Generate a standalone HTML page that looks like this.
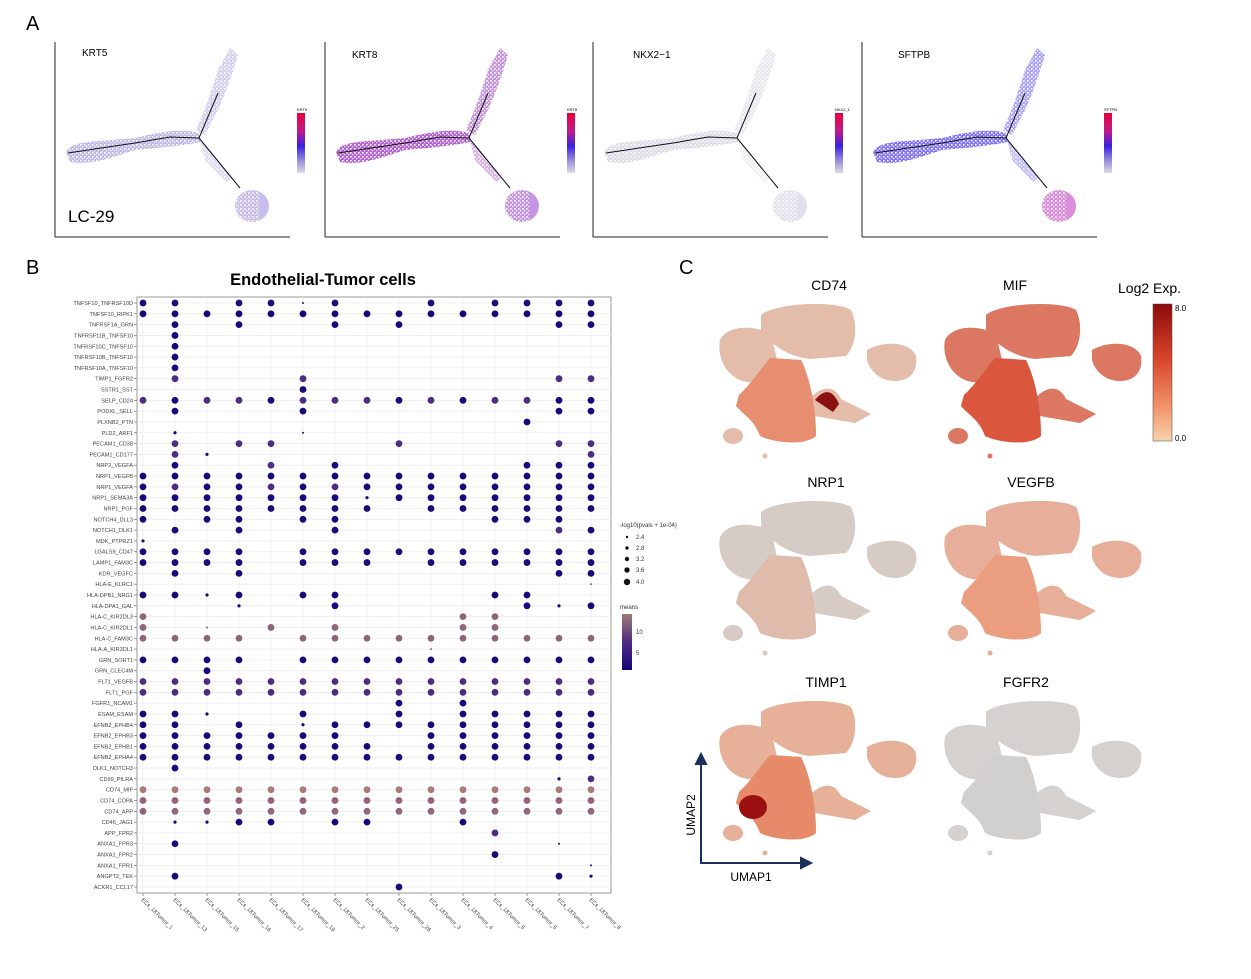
<!DOCTYPE html>
<html><head><meta charset="utf-8">
<style>
body{margin:0;background:#fff;}
svg{display:block;font-family:"Liberation Sans",sans-serif;}
</style></head>
<body>
<svg id="fig" width="1251" height="979" viewBox="0 0 1251 979" xmlns="http://www.w3.org/2000/svg">
<defs>
<linearGradient id="gA" x1="0" y1="0" x2="0" y2="1">
<stop offset="0" stop-color="#e8003a"/><stop offset="0.3" stop-color="#c21a8a"/><stop offset="0.55" stop-color="#3a22e0"/><stop offset="0.8" stop-color="#9a90dc"/><stop offset="1" stop-color="#dcdce4"/></linearGradient>
<linearGradient id="gM" x1="0" y1="0" x2="0" y2="1">
<stop offset="0" stop-color="#a07a76"/><stop offset="0.5" stop-color="#4d2d80"/><stop offset="1" stop-color="#14047a"/></linearGradient>
<linearGradient id="gE" x1="0" y1="0" x2="0" y2="1">
<stop offset="0" stop-color="#8b0a0a"/><stop offset="0.4" stop-color="#d9452b"/><stop offset="0.75" stop-color="#f0946a"/><stop offset="1" stop-color="#f8d2ae"/></linearGradient>
<pattern id="speck" width="4" height="4" patternUnits="userSpaceOnUse">
<rect x="0" y="0" width="1.6" height="1.6" fill="#fff"/><rect x="2" y="2" width="1.2" height="1.2" fill="#fff"/></pattern>
<g id="umap">
<path d="M5,40 C12,26 36,24 56,34 L62,60 C56,80 40,86 25,80 C10,74 2,56 5,40Z"/>
<path d="M46,15 C60,3 120,0 136,10 C143,25 141,45 131,56 L95,59 C70,56 54,42 46,30Z"/>
<path d="M24,95 C35,85 45,70 55,58 L86,60 C96,80 101,110 101,136 C90,146 60,143 45,136 C40,121 30,116 21,106Z"/>
<path d="M93,100 C108,84 120,86 126,99 L156,114 L140,123 L100,116Z"/>
<path d="M152,50 C170,40 195,42 201,56 C203,70 196,81 180,81 C165,81 155,71 152,60Z"/>
<ellipse cx="18" cy="136" rx="10" ry="8"/>
<circle cx="50" cy="156" r="2.5"/>
</g>
<g id="traj">
<path d="M68,153 L135,143 L170,137 L199,138 M199,138 L218,93 M199,138 L240,188" fill="none" stroke="#111" stroke-width="1"/>
</g>
</defs>

<text x="26" y="30" font-size="20">A</text>
<text x="26" y="274" font-size="20">B</text>
<text x="679" y="274" font-size="20">C</text>

<g id="panelA"></g>

<text x="323" y="285" font-size="16.5" font-weight="bold" text-anchor="middle">Endothelial-Tumor cells</text>
<g id="dotplot"></g>

<g font-size="6" fill="#333">
<text x="620" y="527">-log10(pvals + 1e-04)</text>
<circle cx="627" cy="537" r="1.2" fill="#111"/><text x="636" y="539">2.4</text>
<circle cx="627" cy="548" r="1.7" fill="#111"/><text x="636" y="550">2.8</text>
<circle cx="627" cy="559" r="2.2" fill="#111"/><text x="636" y="561">3.2</text>
<circle cx="627" cy="570" r="2.7" fill="#111"/><text x="636" y="572">3.6</text>
<circle cx="627" cy="582" r="3.2" fill="#111"/><text x="636" y="584">4.0</text>
</g>
<g font-size="6" fill="#333">
<text x="620" y="609">means</text>
<rect x="622" y="614" width="10" height="56" fill="url(#gM)"/>
<text x="636" y="634">10</text><text x="636" y="655">5</text>
</g>

<g id="panelC"></g>
<g>
<text x="1118" y="293" font-size="14">Log2 Exp.</text>
<rect x="1153" y="304" width="19" height="137" fill="url(#gE)" stroke="#444" stroke-width="0.5"/>
<text x="1175" y="311" font-size="8">8.0</text>
<text x="1175" y="441" font-size="8">0.0</text>
</g>
<g stroke="#1a2f5a" stroke-width="2" fill="#1a2f5a">
<line x1="701" y1="863" x2="701" y2="762"/><polygon points="696,764 706,764 701,754"/>
<line x1="700" y1="863" x2="803" y2="863"/><polygon points="801,858 801,868 811,863"/>
</g>
<text x="695" y="815" font-size="12" transform="rotate(-90 695 815)" text-anchor="middle">UMAP2</text>
<text x="751" y="881" font-size="12" text-anchor="middle">UMAP1</text>
</svg>

<script>
const NS='http://www.w3.org/2000/svg';
function mk(tag,attrs,parent){const e=document.createElementNS(NS,tag);for(const k in attrs)e.setAttribute(k,attrs[k]);parent.appendChild(e);return e;}

/* ---------- Panel B data ---------- */
const columns=['ECs_18Tumor_1','ECs_18Tumor_13','ECs_18Tumor_15','ECs_18Tumor_16','ECs_18Tumor_17','ECs_18Tumor_19','ECs_18Tumor_2','ECs_18Tumor_25','ECs_18Tumor_26','ECs_18Tumor_3','ECs_18Tumor_4','ECs_18Tumor_5','ECs_18Tumor_6','ECs_18Tumor_7','ECs_18Tumor_8'];
const pairs=['TNFSF10_TNFRSF10D','TNFSF10_RIPK1','TNFRSF1A_GRN','TNFRSF11B_TNFSF10','TNFRSF10C_TNFSF10','TNFRSF10B_TNFSF10','TNFRSF10A_TNFSF10','TIMP1_FGFR2','SSTR1_SST','SELP_CD24','PODXL_SELL','PLXNB2_PTN','PLD2_ARF1','PECAM1_CD38','PECAM1_CD177','NRP2_VEGFA','NRP1_VEGFB','NRP1_VEGFA','NRP1_SEMA3A','NRP1_PGF','NOTCH4_DLL3','NOTCH1_DLK1','MDK_PTPRZ1','LGALS9_CD47','LAMP1_FAM3C','KDR_VEGFC','HLA-E_KLRC1','HLA-DPB1_NRG1','HLA-DPA1_GAL','HLA-C_KIR2DL3','HLA-C_KIR2DL1','HLA-C_FAM3C','HLA-A_KIR3DL1','GRN_SORT1','GRN_CLEC4M','FLT1_VEGFB','FLT1_PGF','FGFR1_NCAM1','ESAM_ESAM','EFNB2_EPHB4','EFNB2_EPHB3','EFNB2_EPHB1','EFNB2_EPHA4','DLK1_NOTCH3','CD99_PILRA','CD74_MIF','CD74_COPA','CD74_APP','CD46_JAG1','APP_FPR2','ANXA1_FPR3','ANXA1_FPR2','ANXA1_FPR1','ANGPT2_TEK','ACKR1_CCL17'];
const cells=[
"bb.bbtb..b.bbbb","bbbbbbbbbbbbbbb",".b.b..b.b....bb",".b.............",".b.............",".b.............",".b.............",
".p...p.......pp",".....b.........","pbppbpppbpbppbb",".b...b.......bb","............b..",".s...t.........",".p.pp...p....pp",
".ps...........p",".b..p.b.....bbb","bbbbbbbbbbbbbbb","bpbbpbpbbbbbbbb","bbbbbbbsbbbbbbb","bbbbbbbb.bbbbbb","b.bb.bb....bbb.",
".b.b..b......pb","s..............","bbbb.bbbbbbbbbb","bbbb.bbb.bbbbbb",".b.b.........bb","..............u","bbsb.bb....bb..",
"...s..b.....bsb","m.........mm...","m.u.m.m...mm...","mmmm.mmmmmmmmmm",".........u.....","bbbb.bbbbbbbbbb","..b............",
"ppppppppppppppp","ppppppppppppppp","........b.b....","bbs..b..b.bbbbb","bb.b.sbbbbbbbbb","bbbbbbb..bbbbbb","bbbbbbbb.bbbbbb",
"bbbbbbbbbbbbbbb",".b.............",".............sp","lllllllllllllll","mmmmmmmmmmmmmmm","mmmmmmmmmmmmmmm",".ssbb.bb..b....",
"...........p...",".b...........t.","...........b...","..............t",".b...........bs","........b......"];
const codePval={b:4.0,p:4.0,m:4.0,l:4.0,s:2.8,t:2.4,u:2.4};
const codeMean={b:1.5,p:6,m:11,l:13,s:1.5,t:1.5,u:11};

/* ---------- Panel A ---------- */
const aGenes=['KRT5','KRT8','NKX2\u22121','SFTPB'];
const aOffsets=[0,270,538,807];
const aLeft=['#a79ee6','#9a22c8','#cfcfe0','#4e3cf0'];
const aArm=['#b0a8e8','#a040c8','#d6d6e2','#6a5cf0'];
const aLow=['#9a88e0','#9a3cd0','#c8c8e0','#c030c0'];
const pA=document.getElementById('panelA');
aGenes.forEach((g,i)=>{
  const dx=aOffsets[i];
  const grp=mk('g',{transform:'translate('+dx+',0)'},pA);
  
  
  const cloud=mk('g',{},grp);
  mk('path',{d:'M66,152 C72,140 95,142 135,138 C160,132 180,128 199,133 L201,142 C180,146 160,148 135,150 C110,158 90,166 70,162Z',fill:aLeft[i],opacity:0.7},cloud);
  mk('path',{d:'M196,130 C205,110 212,90 218,70 L230,48 L238,55 C232,75 225,95 218,110 L205,135Z',fill:aArm[i],opacity:0.55},cloud);
  mk('path',{d:'M200,140 L210,150 L232,178 L226,182 L205,160Z',fill:aArm[i],opacity:0.4},cloud);
  mk('ellipse',{cx:252,cy:206,rx:17,ry:16,fill:aLow[i],opacity:0.55},cloud);
  mk('rect',{x:60,y:45,width:200,height:185,fill:'url(#speck)'},cloud);
  mk('line',{x1:55,y1:42,x2:55,y2:237,stroke:'#222','stroke-width':1},grp);
  mk('line',{x1:55,y1:237,x2:290,y2:237,stroke:'#222','stroke-width':1},grp);
  const t=mk('text',{x:i==2?95:(i==3?91:82),y:i==0?56:58,'font-size':10},grp);t.textContent=g;
  
  
  mk('use',{href:'#traj'},grp);
  const cb=mk('text',{x:297,y:111,'font-size':4},grp);cb.textContent=g.replace('\u2212','_');
  
  
  const r=mk('rect',{x:297,y:113,width:8,height:60,fill:'url(#gA)'},grp);
  
  
});
const lc=mk('text',{x:68,y:222,'font-size':17},pA);lc.textContent='LC-29';



/* ---------- Panel B dotplot ---------- */
const dp=document.getElementById('dotplot');
const X0=143,X1=591,Y0=303,Y1=887;
const xs=i=>X0+(X1-X0)*i/(columns.length-1);
const ys=j=>Y0+(Y1-Y0)*j/(pairs.length-1);
const rs=v=>1+(v-2.4)/1.6*2.4;
function lerp(a,b,t){return a.map((v,i)=>Math.round(v+(b[i]-v)*t));}
function colorOf(m){
  const c0=[20,4,122],c1=[77,45,128],c2=[168,124,120];
  let c; if(m<=6)c=lerp(c0,c1,(m-1)/5); else c=lerp(c1,c2,Math.min(1,(m-6)/7));
  return 'rgb('+c.join(',')+')';
}
mk('rect',{x:137,y:297,width:474,height:596,fill:'#fff',stroke:'#999','stroke-width':1},dp);
pairs.forEach((p,j)=>{
  mk('line',{x1:137,x2:611,y1:ys(j),y2:ys(j),stroke:'#ececec','stroke-width':0.8},dp);
  mk('line',{x1:134,x2:137,y1:ys(j),y2:ys(j),stroke:'#555','stroke-width':0.6},dp);
  const t=mk('text',{x:133,y:ys(j)+2,'font-size':5.6,'text-anchor':'end',fill:'#444'},dp);
  t.textContent=p;
  
  
});
columns.forEach((c,i)=>{
  mk('line',{x1:xs(i),x2:xs(i),y1:297,y2:893,stroke:'#ececec','stroke-width':0.8},dp);
  mk('line',{x1:xs(i),x2:xs(i),y1:893,y2:896,stroke:'#555','stroke-width':0.6},dp);
  const t=mk('text',{x:xs(i)-2,y:900,'font-size':5.6,fill:'#444',transform:'rotate(45 '+(xs(i)-2)+' 900)'},dp);
  t.textContent=c;
  
  
});
cells.forEach((row,j)=>{
  for(let i=0;i<row.length;i++){
    const ch=row[i]; if(ch==='.')continue;
    const d=mk('circle',{cx:xs(i),cy:ys(j),r:rs(codePval[ch]),fill:colorOf(codeMean[ch])},dp);
    
    
  }
});

/* ---------- Panel C UMAPs ---------- */
const umapGenes=['CD74','MIF','NRP1','VEGFB','TIMP1','FGFR2'];
const umapX=[715,940,715,940,715,940];
const umapY=[300,300,497,497,697,697];
const titleDx=[114,75,111,91,111,86];
const umapFill=['#e9b49c','#df5a3c','#d8c8c0','#eea286','#eca586','#d4d0ce'];
const umapBody=['#e77a55','#d8482e','#e2b4a0','#ec9574','#e67a55','#d2d0ce'];
const pC=document.getElementById('panelC');
umapGenes.forEach((g,i)=>{
  const grp=mk('g',{transform:'translate('+umapX[i]+','+umapY[i]+')'},pC);
  
  
  mk('use',{href:'#umap',fill:'#d4d4d4'},grp);
  mk('use',{href:'#umap',fill:umapFill[i],opacity:0.75},grp);
  mk('path',{d:'M24,95 C35,85 45,70 55,58 L86,60 C96,80 101,110 101,136 C90,146 60,143 45,136 C40,121 30,116 21,106Z',fill:umapBody[i],opacity:0.7},grp);
  if(i===0){mk('path',{d:'M100,100 C110,88 118,90 124,104 L118,112Z',fill:'#8b1010'},grp);}
  if(i===4){mk('ellipse',{cx:38,cy:110,rx:14,ry:12,fill:'#9b1010'},grp);}
  const t=mk('text',{x:titleDx[i],y:-10,'font-size':14,'text-anchor':'middle'},grp);
  t.textContent=g;
  
  
});
</script>
</body></html>
